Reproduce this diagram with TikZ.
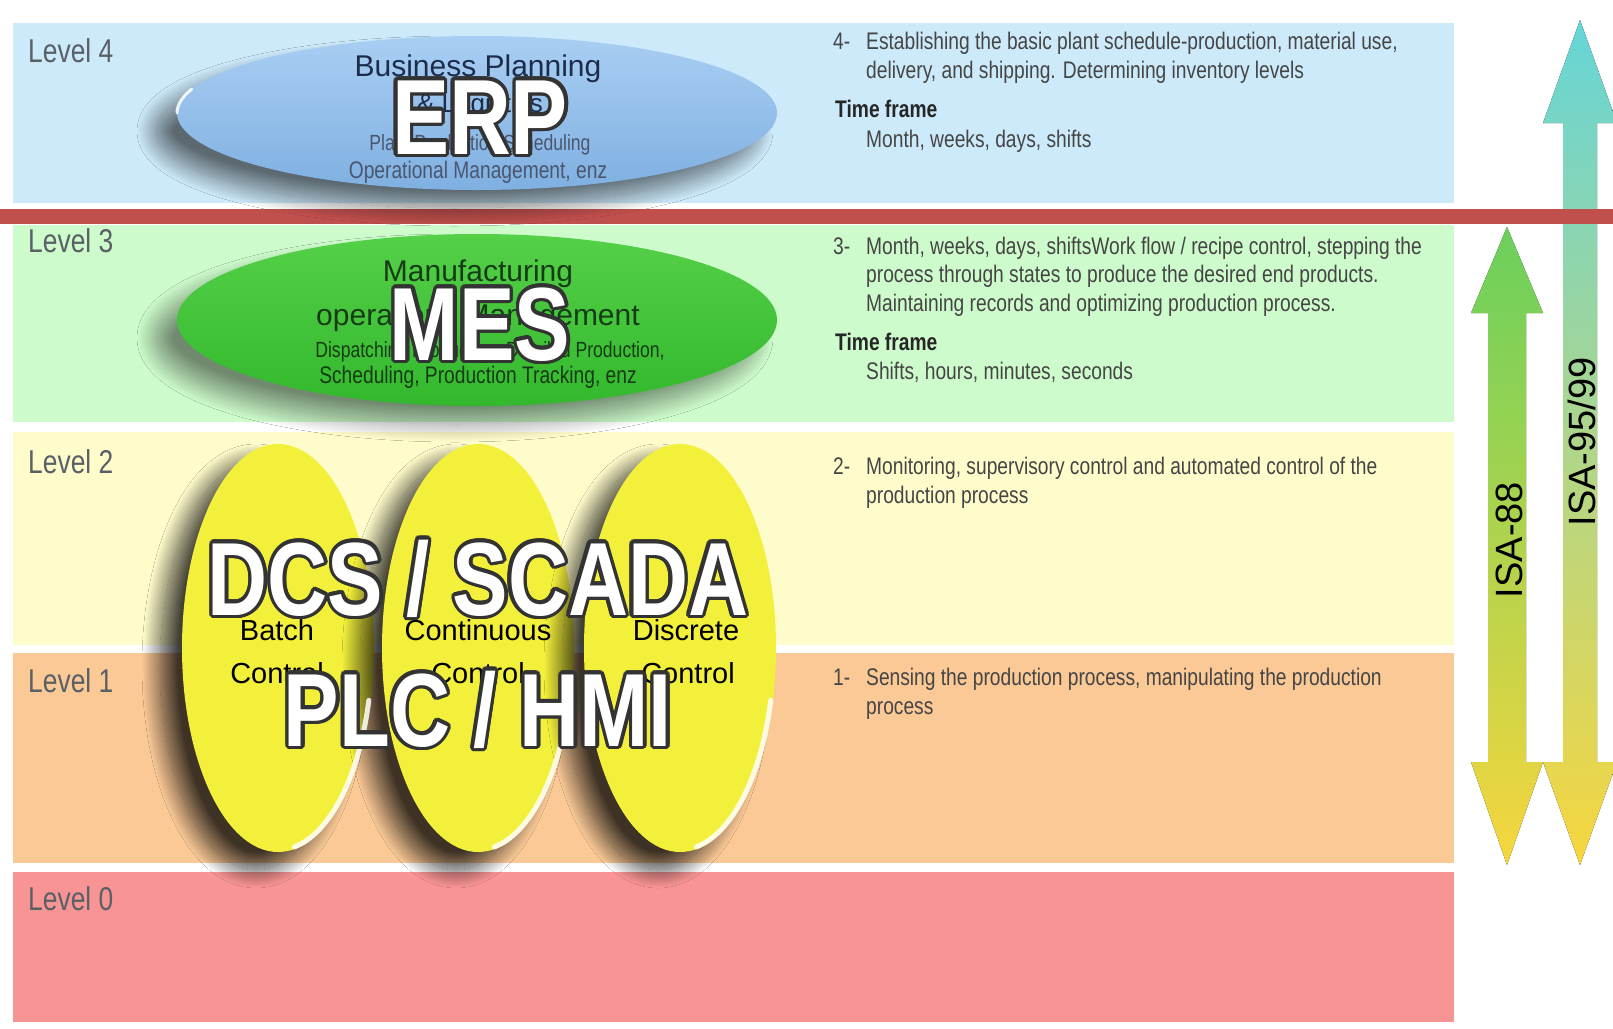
\documentclass[tikz,border=0pt]{standalone}
\usepackage{fontspec}
\setmainfont{Liberation Sans}
\newfontfamily\narrowfont[FakeStretch=0.8]{Liberation Sans}
\usepackage[copies]{contour}
\usetikzlibrary{shapes.geometric}
\usetikzlibrary{shadows.blur}
\usetikzlibrary{positioning}
\definecolor{lvlfour}{HTML}{CDEAFB}
\definecolor{lvlthree}{HTML}{CDFBCB}
\definecolor{lvltwo}{HTML}{FFFCCC}
\definecolor{lvlone}{HTML}{FAC996}
\definecolor{lvlzero}{HTML}{F99494}
\definecolor{redline}{HTML}{C0504D}
\definecolor{textgray}{HTML}{454545}
\definecolor{levelgray}{HTML}{596066}
\definecolor{erptop}{HTML}{A9CEF3}
\definecolor{erpbottom}{HTML}{7FB0E1}
\definecolor{mestop}{HTML}{55D049}
\definecolor{mesbottom}{HTML}{33B82D}
\definecolor{ellyellow}{HTML}{F3F03C}
\definecolor{erpink}{HTML}{1D2C4A}
\definecolor{mesink}{HTML}{153C15}
\definecolor{arrgreen}{HTML}{6AD05C}
\definecolor{arrcyan}{HTML}{66D5D8}
\definecolor{arryellow}{HTML}{F7D63E}
\contourlength{3.5pt}
\tikzset{
band/.style={ % Sets the properties for each level band
fill=#1, draw=none,
inner sep=0pt, outer sep=0pt,
anchor=north west,
minimum width=1441pt},
level/.style={anchor=base west, inner sep=0pt, text=levelgray,
font=\narrowfont\fontsize{33}{33}\selectfont},
desc/.style={anchor=base west, inner sep=0pt, text=textgray, align=left, % base = last line
font=\narrowfont\fontsize{24}{28.5}\selectfont},
timeframe/.style={anchor=base west, inner sep=0pt, text=black!85,
font=\narrowfont\bfseries\fontsize{24}{28}\selectfont},
blob/.style={ellipse, inner sep=0pt, draw=none}, % The coloured ellipses
soft shadow/.style={blur shadow={shadow xshift=-22pt, shadow yshift=-18pt,
shadow blur radius=18pt, shadow blur steps=30, shadow opacity=#1}},
rim/.style={white, line width=5pt, opacity=0.85, line cap=round}, % bright edge of a blob
bigtext/.style={anchor=base, inner sep=0pt, text=white,
font=\narrowfont\bfseries\fontsize{104}{104}\selectfont},
inner/.style={anchor=base, inner sep=0pt,
font=\fontsize{30}{30}\selectfont},
small/.style={anchor=base, inner sep=0pt,
font=\narrowfont\fontsize{24}{24}\selectfont},
ctrl/.style={anchor=base, inner sep=0pt, text=black,
font=\fontsize{29}{29}\selectfont},
isa/.style={rotate=90, inner sep=0pt, text=black,
font=\fontsize{38}{38}\selectfont}}

\begin{document}
\begin{tikzpicture}[x=1pt, y=-1pt]
\useasboundingbox (0,0) rectangle (1613,1028);
\fill[white] (0,0) rectangle (1613,1028);
% level bands
\node[band=lvlfour, minimum height=180pt] (band4) at (13,23) {};
\node[band=lvlthree, minimum height=197pt] (band3) at (13,225) {};
\node[band=lvltwo, minimum height=213pt] (band2) at (13,432) {};
\node[band=lvlone, minimum height=210pt] (band1) at (13,653) {};
\node[band=lvlzero, minimum height=150pt] (band0) at (13,872) {};
\node[level] (lvl4) at (28,62) {Level 4};
\node[level] (lvl3) at (28,252) {Level 3};
\node[level] (lvl2) at (28,473) {Level 2};
\node[level] (lvl1) at (28,692) {Level 1};
\node[level] (lvl0) at (28,910) {Level 0};
% ISA arrows
\fill[top color=arrgreen, middle color=arryellow!60!arrgreen, bottom color=arryellow]
(1507,227) -- (1543,313) -- (1526,313) -- (1526,762) -- (1543,762) -- (1507,865)
-- (1471,762) -- (1488,762) -- (1488,313) -- (1471,313) -- cycle;
\fill[top color=arrcyan, middle color=arryellow!55!arrcyan, bottom color=arryellow]
(1580,20) -- (1617,123) -- (1597,123) -- (1597,762) -- (1617,762) -- (1580,865)
-- (1543,762) -- (1563,762) -- (1563,123) -- (1543,123) -- cycle;
\node[isa] (isa88) at (1509,540) {ISA-88};
\node[isa] (isa95) at (1582,442) {ISA-95/99};
\fill[redline] (0,209) rectangle (1613,224);
% ERP
\node[blob, minimum width=600pt, minimum height=154pt, top color=erptop, bottom color=erpbottom,
soft shadow=55] (erp) at (477,113) {};
\draw[rim, line width=3pt] (177,113) arc[start angle=180, end angle=198, x radius=300, y radius=77];
\node[inner, text=erpink] (erp1) at (478,76) {Business Planning};
\node[inner, text=erpink, font=\fontsize{26}{26}\selectfont] (erp2) at (480,112) {\& Logistics};
\node[small, text=erpink!80, font=\narrowfont\fontsize{22}{22}\selectfont] (erp3) at (480,150) {Plant Production Scheduling};
\node[small, text=erpink!80] (erp4) at (478,178) {Operational Management, enz};
\node[bigtext, font=\narrowfont\bfseries\fontsize{107}{107}\selectfont] (erpbig) at (480,154) {\contour{black!80}{ERP}};
% MES
\node[blob, minimum width=600pt, minimum height=172pt, top color=mestop, bottom color=mesbottom,
soft shadow=45] (mes) at (477,320) {};
\node[inner, text=mesink] (mes1) at (478,281) {Manufacturing};
\node[inner, text=mesink] (mes2) at (478,325) {operations Management};
\node[small, text=mesink, font=\narrowfont\fontsize{22}{22}\selectfont] (mes3) at (490,357) {Dispatching Production, Detailed Production,};
\node[small, text=mesink] (mes4) at (478,383) {Scheduling, Production Tracking, enz};
\node[bigtext] (mesbig) at (480,360) {\contour{black!80}{MES}};
% control ellipses
\node[blob, minimum width=192pt, minimum height=408pt, fill=ellyellow, soft shadow=75] (batch) at (278,648) {};
\node[blob, minimum width=192pt, minimum height=408pt, fill=ellyellow, soft shadow=75] (cont) at (478,648) {};
\node[blob, minimum width=192pt, minimum height=408pt, fill=ellyellow, soft shadow=75] (disc) at (680,648) {};
\draw[rim] (368.8,700.3) arc[start angle=15, end angle=80, x radius=94, y radius=202];
\draw[rim] (568.8,700.3) arc[start angle=15, end angle=80, x radius=94, y radius=202];
\draw[rim] (770.8,700.3) arc[start angle=15, end angle=80, x radius=94, y radius=202];
\node[ctrl] (batch1) at (277,640) {Batch};
\node[ctrl] (batch2) at (277,683) {Control};
\node[ctrl] (cont1) at (478,640) {Continuous};
\node[ctrl] (cont2) at (478,683) {Control};
\node[ctrl] (disc1) at (686,640) {Discrete};
\node[ctrl] (disc2) at (688,683) {Control};
\node[bigtext] (dcs) at (478,615) {\contour{black!80}{DCS / SCADA}};
\node[bigtext] (plc) at (478,746) {\contour{black!80}{PLC / HMI}};
% descriptions
\node[desc] (num4) at (833,49) {4-};
\node[desc] (txt4) at (866,78) {Establishing the basic plant schedule-production, material use,\\delivery, and shipping. Determining inventory levels};
\node[timeframe] (tf4) at (835,117) {Time frame};
\node[desc] (val4) at (866,147) {Month, weeks, days, shifts};
\node[desc] (num3) at (833,254) {3-};
\node[desc] (txt3) at (866,311) {Month, weeks, days, shiftsWork flow / recipe control, stepping the\\process through states to produce the desired end products.\\Maintaining records and optimizing production process.};
\node[timeframe] (tf3) at (835,350) {Time frame};
\node[desc] (val3) at (866,379) {Shifts, hours, minutes, seconds};
\node[desc] (num2) at (833,474) {2-};
\node[desc] (txt2) at (866,503) {Monitoring, supervisory control and automated control of the\\production process};
\node[desc] (num1) at (833,685) {1-};
\node[desc] (txt1) at (866,714) {Sensing the production process, manipulating the production\\process};
\end{tikzpicture}
\end{document}
